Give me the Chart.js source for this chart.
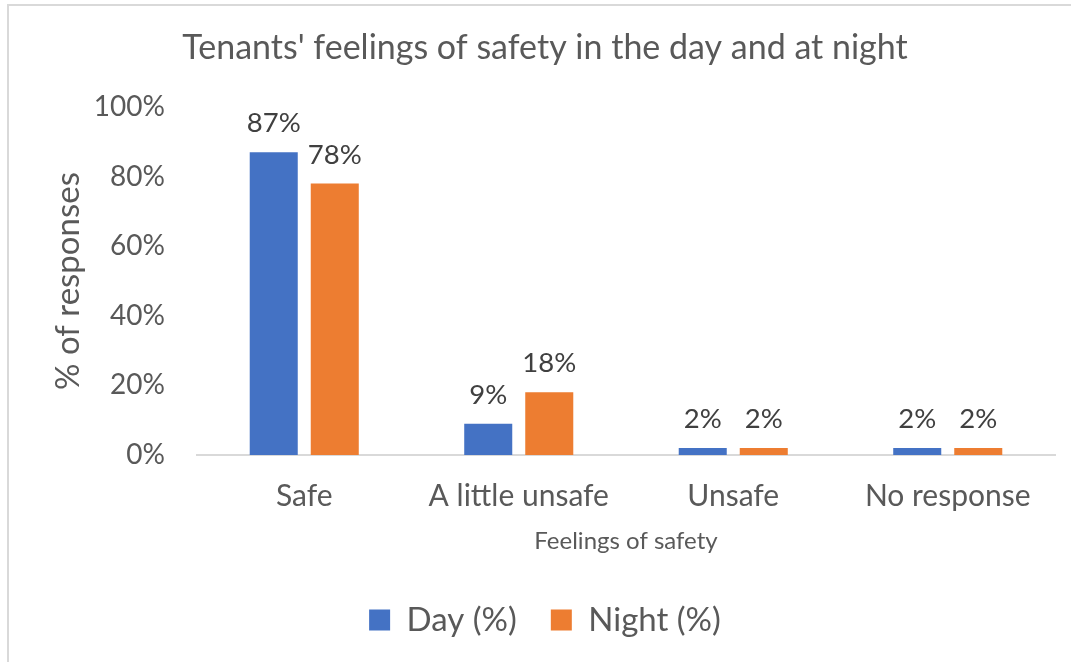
<!DOCTYPE html>
<html>
<head>
<meta charset="utf-8">
<script src="https://cdn.jsdelivr.net/npm/chart.js@4/dist/chart.umd.min.js"></script>
<style>
    html, body { margin: 0; padding: 0; background: #fff; overflow: hidden; }
    .frame {
        position: absolute; left: 7px; top: 4px; width: 1200px; height: 800px;
        border-left: 2px solid #d9d9d9; border-top: 2px solid #d9d9d9;
    }
    .wrap { position: absolute; left: 0; top: 0; width: 1071px; height: 662px; }
</style>
</head>
<body>
<div class="frame"></div>
<div class="wrap"><canvas id="myChart"></canvas></div>
<script>
const categories = ['Safe', 'A little unsafe', 'Unsafe', 'No response'];
const dayValues = [87, 9, 2, 2];
const nightValues = [78, 18, 2, 2];
const yTicks = [0, 20, 40, 60, 80, 100];

const FONT = 'Lato';
const GREY = '#595959';

// labels above each bar
const barLabels = {
    id: 'barLabels',
    afterDatasetsDraw(chart) {
        const ctx = chart.ctx;
        ctx.save();
        ctx.font = '27.5px ' + FONT;
        ctx.fillStyle = '#404040';
        ctx.textAlign = 'center';
        ctx.textBaseline = 'alphabetic';
        chart.data.datasets.forEach(function (ds, i) {
            chart.getDatasetMeta(i).data.forEach(function (bar, j) {
                ctx.fillText(ds.data[j] + '%', bar.x, bar.y - 20);
            });
        });
        ctx.restore();
    }
};

const data = {
    labels: categories,
    datasets: [
        {
            label: 'Day (%)',
            data: dayValues,
            backgroundColor: '#4472C4',
            barPercentage: 0.787,
            categoryPercentage: 0.569
        },
        {
            label: 'Night (%)',
            data: nightValues,
            backgroundColor: '#ED7D31',
            barPercentage: 0.787,
            categoryPercentage: 0.569
        }
    ]
};

const config = {
    type: 'bar',
    data: data,
    plugins: [barLabels],
    options: {
        responsive: true,
        maintainAspectRatio: false,
        animation: false,
        layout: { padding: { left: 35, right: 16, top: 0, bottom: 15.5 } },
        plugins: {
            title: {
                display: true,
                text: "Tenants' feelings of safety in the day and at night",
                color: GREY,
                font: { family: FONT, size: 34, weight: 'normal' },
                padding: { top: 27.6, bottom: 38.6 }
            },
            legend: {
                position: 'bottom',
                labels: {
                    color: GREY,
                    font: { family: FONT, size: 33 },
                    boxWidth: 21,
                    boxHeight: 21,
                    padding: 34
                }
            },
            tooltip: { enabled: false }
        },
        scales: {
            x: {
                grid: { display: false, drawTicks: false },
                border: { display: true, color: '#d9d9d9', width: 2 },
                ticks: { color: GREY, font: { family: FONT, size: 30 }, padding: 23, maxRotation: 0 },
                title: {
                    display: true,
                    text: 'Feelings of safety',
                    color: GREY,
                    font: { family: FONT, size: 24 },
                    padding: { top: 0, bottom: 14.1 }
                },
                afterFit: function (s) { s.height = 114.5; }
            },
            y: {
                min: 0,
                max: 100,
                afterBuildTicks: function (s) { s.ticks = yTicks.map(function (v) { return { value: v }; }); },
                grid: { display: false, drawTicks: false },
                border: { display: false },
                ticks: {
                    color: GREY,
                    font: { family: FONT, size: 28 },
                    padding: 32,
                    callback: function (v) { return v + '%'; }
                },
                title: {
                    display: true,
                    text: '% of responses',
                    color: GREY,
                    font: { family: FONT, size: 33 },
                    padding: { top: 13.2, bottom: 0 }
                },
                afterFit: function (s) { s.width = 162; }
            }
        }
    }
};

const ctx = document.getElementById('myChart').getContext('2d');
new Chart(ctx, config);
</script>
</body>
</html>
